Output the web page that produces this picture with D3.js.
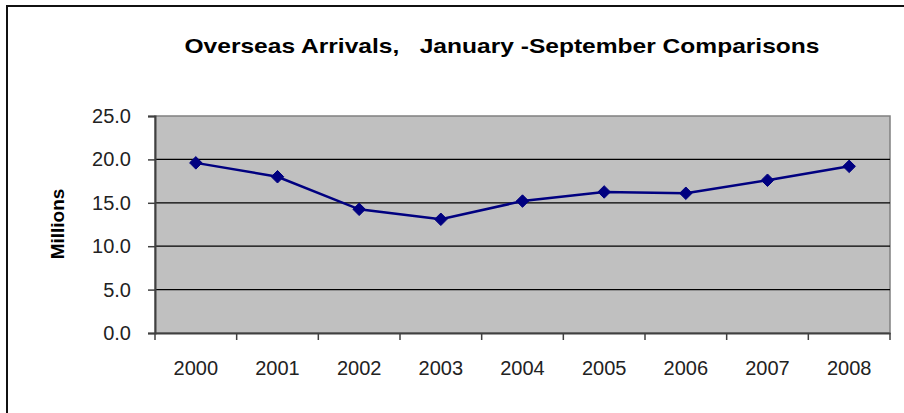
<!DOCTYPE html>
<html>
<head>
<meta charset="utf-8">
<script src="https://cdn.jsdelivr.net/npm/d3@7"></script>
<style>
  body { margin: 0; background: #fff; }
  text { font-family: "Liberation Sans", Arial, sans-serif; }
</style>
</head>
<body>
<div id="chart"></div>
<script>
var years = ["2000", "2001", "2002", "2003", "2004", "2005", "2006", "2007", "2008"]
var arrivals = [19.6, 18.0, 14.25, 13.1, 15.2, 16.25, 16.1, 17.6, 19.2]
var yTicks = [0, 5, 10, 15, 20, 25]

var width = 904,
    height = 413,
    plotLeft = 155, plotRight = 890,
    plotTop = 116, plotBottom = 333

var svg = d3.select('#chart').append('svg')
    .attr('width', width)
    .attr('height', height)

// chart frame (only top and left edges fall inside the picture)
svg.append('path')
    .attr('d', 'M7,' + height + 'V6H' + width)
    .attr('fill', 'none')
    .attr('stroke', '#111')
    .attr('stroke-width', 2)

svg.append('text')
    .attr('x', 502)
    .attr('y', 53)
    .attr('text-anchor', 'middle')
    .attr('font-size', 21)
    .attr('font-weight', 'bold')
    .attr('textLength', 635)
    .attr('lengthAdjust', 'spacingAndGlyphs')
    .attr('xml:space', 'preserve')
    .text('Overseas Arrivals,   January -September Comparisons')

var x = d3.scaleBand()
    .domain(years)
    .range([plotLeft, plotRight])
    .padding(0)

var y = d3.scaleLinear()
    .domain([0, 25])
    .range([plotBottom, plotTop])

// plot area
svg.append('rect')
    .attr('x', plotLeft)
    .attr('y', plotTop)
    .attr('width', plotRight - plotLeft)
    .attr('height', plotBottom - plotTop)
    .attr('fill', '#c0c0c0')
    .attr('stroke', '#808080')
    .attr('stroke-width', 1.5)

// gridlines
svg.append('g')
    .selectAll('line')
    .data(yTicks.filter(function (d) { return d > 0 && d < 25 }))
    .enter().append('line')
    .attr('x1', plotLeft)
    .attr('x2', plotRight)
    .attr('y1', function (d) { return y(d) })
    .attr('y2', function (d) { return y(d) })
    .attr('stroke', '#000')
    .attr('stroke-width', 1.2)

var y_axis = d3.axisLeft(y)
    .tickValues(yTicks)
    .tickSize(7)
    .tickPadding(17)
    .tickFormat(d3.format('.1f'))

var gy = svg.append('g')
    .attr('transform', 'translate(' + plotLeft + ',0)')
    .call(y_axis)
gy.select('.domain').attr('stroke', '#404040').attr('stroke-width', 2)
gy.selectAll('.tick line').attr('stroke', '#404040').attr('stroke-width', 1.5)
gy.selectAll('.tick text')
    .attr('font-size', 20)
    .attr('fill', '#222')
    .attr('font-family', '"Liberation Sans", Arial, sans-serif')

// x axis: ticks on band edges, labels at band centres
var x_axis = d3.axisBottom(x)
    .tickSize(0)
    .tickPadding(28)

var gx = svg.append('g')
    .attr('transform', 'translate(0,' + plotBottom + ')')
    .call(x_axis)
gx.select('.domain').attr('stroke', '#404040').attr('stroke-width', 2)
gx.selectAll('.tick text')
    .attr('font-size', 20)
    .attr('fill', '#222')
    .attr('font-family', '"Liberation Sans", Arial, sans-serif')

gx.selectAll('.edge')
    .data(years.concat(['end']))
    .enter().append('line')
    .attr('class', 'edge')
    .attr('x1', function (d, i) { return i < years.length ? x(d) : plotRight })
    .attr('x2', function (d, i) { return i < years.length ? x(d) : plotRight })
    .attr('y1', 0)
    .attr('y2', 7)
    .attr('stroke', '#404040')
    .attr('stroke-width', 1.5)

svg.append('text')
    .attr('transform', 'translate(64,224) rotate(-90)')
    .attr('text-anchor', 'middle')
    .attr('font-size', 19)
    .attr('font-weight', 'bold')
    .text('Millions')

var line = d3.line()
    .x(function (d, i) { return x(years[i]) + x.bandwidth() / 2 })
    .y(function (d) { return y(d) })

svg.append('path')
    .datum(arrivals)
    .attr('d', line)
    .attr('fill', 'none')
    .attr('stroke', '#000080')
    .attr('stroke-width', 2.5)

svg.append('g')
    .selectAll('path')
    .data(arrivals)
    .enter().append('path')
    .attr('d', d3.symbol().type(d3.symbolDiamond2).size(100))
    .attr('transform', function (d, i) {
        return 'translate(' + (x(years[i]) + x.bandwidth() / 2) + ',' + y(d) + ')'
    })
    .attr('fill', '#000080')
    .attr('stroke', '#000080')
    .attr('stroke-width', 1)
</script>
</body>
</html>
